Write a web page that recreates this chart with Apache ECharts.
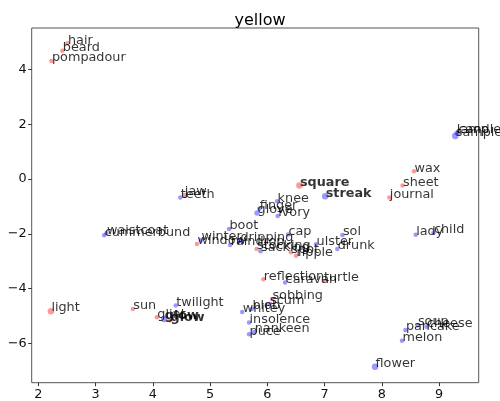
<!DOCTYPE html>
<html>
<head>
<meta charset="utf-8">
<script src="https://cdn.jsdelivr.net/npm/echarts@6/dist/echarts.min.js"></script>
<style>html,body{margin:0;padding:0;background:#fff}#c{width:500px;height:401px}</style>
</head>
<body>
<div id="c"></div>
<script>
var words = ["hair","beard","pompadour","jaw","wax","sheet","journal","square","window","stocking","spot","ripple","reflection","turtle","sobbing","light","sun","glint","glow",
 "teeth","sample","lamp","candle","streak","knee","finger","glove","ivory","boot","cap","sol","ulster","drunk","lady","child","waistcoat","cummerbund","winter","raindrop","dripping","sacking","caravan","scum","blob","whitey","insolence","nankeen","puce","twilight","glow","soup","cheese","pancake","melon","flower"];
var xValues = [2.51,2.42,2.23,4.55,8.56,8.36,8.13,6.56,4.77,5.81,6.41,6.50,5.93,6.98,6.08,2.22,3.65,4.07,4.30,
 4.48,9.28,9.30,9.33,7.01,6.17,5.86,5.82,6.18,5.33,6.36,7.31,6.85,7.22,8.59,8.90,3.19,3.15,4.84,5.35,5.52,5.88,6.31,6.04,5.73,5.56,5.68,5.77,5.68,4.40,4.20,8.62,8.78,8.41,8.35,7.88];
var yValues = [4.95,4.68,4.31,-0.58,0.28,-0.24,-0.67,-0.24,-2.37,-2.55,-2.67,-2.80,-3.66,-3.72,-4.38,-4.82,-4.74,-5.04,-5.15,
 -0.67,1.57,1.68,1.68,-0.63,-0.81,-1.08,-1.24,-1.35,-1.82,-2.02,-2.04,-2.38,-2.55,-2.03,-1.96,-1.98,-2.05,-2.23,-2.41,-2.26,-2.63,-3.77,-4.56,-4.74,-4.85,-5.23,-5.58,-5.66,-4.61,-5.11,-5.33,-5.39,-5.51,-5.90,-6.85];
var groups = ["r","r","r","r","r","r","r","r","r","r","r","r","r","r","r","r","r","r","r",
 "b","b","b","b","b","b","b","b","b","b","b","b","b","b","b","b","b","b","b","b","b","b","b","b","b","b","b","b","b","b","b","b","b","b","b","b"];
var weights = [1,1,1,1,1,1,1,3,1,1,1,1,1,1,1,3,1,1,1,
 1,3,1,1,3,1,1,2,1,1,1,1,1,1,1,1,1,1,1,1,1,1,1,1,1,1,1,1,1,1,3,1,1,1,1,3];
var boldWords = ["square","streak","glow"];
var xTicks = [2,3,4,5,6,7,8,9];
var yTicks = [-6,-4,-2,0,2,4];
var titleText = "yellow";

var colorMap = {r: "rgba(255,0,0,0.5)", b: "rgba(0,0,255,0.5)"};
var sizeMap = {1: 4.5, 2: 5.5, 3: 6.5};
var data = words.map(function (w, i) {
  var s = sizeMap[weights[i]];
  return {
    name: w,
    value: [xValues[i], yValues[i]],
    symbolSize: s,
    itemStyle: {color: colorMap[groups[i]]},
    label: {fontWeight: boldWords.indexOf(w) >= 0 ? "bold" : "normal", position: [s / 2 + 0.5, s / 2 + 3.5]}
  };
});
var font = "DejaVu Sans";
var chart = echarts.init(document.getElementById("c"), null, {renderer: "canvas"});
chart.setOption({
  animation: false,
  backgroundColor: "#fff",
  title: {text: titleText, left: 255, textAlign: "center", top: 8,
    textStyle: {fontFamily: font, fontSize: 16, fontWeight: "normal", color: "#000"}},
  grid: {left: 31.7, top: 28, right: 21.3, bottom: 18.3, show: true, borderColor: "#555", borderWidth: 1, backgroundColor: "transparent"},
  xAxis: {type: "value", min: 1.885, max: 9.69, splitLine: {show: false},
    axisLine: {show: false, onZero: false},
    axisTick: {show: true, length: 3.5, lineStyle: {color: "#333"}, customValues: xTicks},
    axisLabel: {fontFamily: font, fontSize: 12.8, color: "#111", margin: 5, customValues: xTicks}},
  yAxis: {type: "value", min: -7.43, max: 5.51, splitLine: {show: false},
    axisLine: {show: false, onZero: false},
    axisTick: {show: true, length: 3.5, lineStyle: {color: "#333"}, customValues: yTicks},
    axisLabel: {fontFamily: font, fontSize: 12.8, color: "#111", margin: 5, customValues: yTicks,
      formatter: function (v) { return String(v).replace("-", "\u2212"); }}},
  series: [{
    type: "scatter",
    data: data,
    label: {show: true, formatter: "{b}", align: "left", verticalAlign: "bottom",
      fontFamily: font, fontSize: 12.8, color: "#000"},
    labelLayout: {hideOverlap: false},
    emphasis: {disabled: true}
  }]
});
</script>
</body>
</html>
